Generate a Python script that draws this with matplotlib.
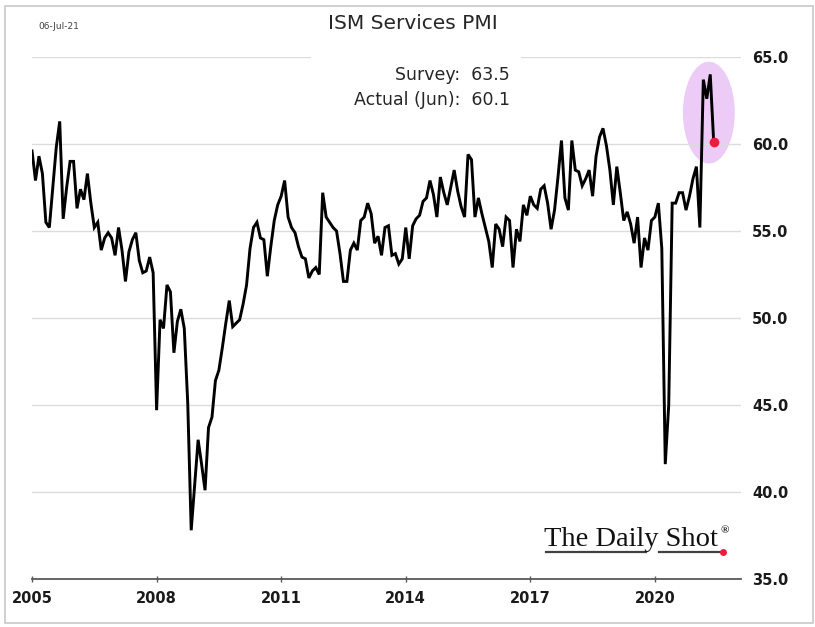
import matplotlib
matplotlib.use('Agg')
import matplotlib.pyplot as plt
from matplotlib.patches import Ellipse, Rectangle
from matplotlib.lines import Line2D
import numpy as np

## ISM services PMI, monthly Jan-2005 .. Jun-2021
pmi_2005 = [59.6, 57.9, 59.3, 58.3, 55.5, 55.2, 57.5, 59.8, 61.3, 55.7, 57.5, 59.0]
pmi_2006 = [59.0, 56.3, 57.4, 56.8, 58.3, 56.6, 55.2, 55.5, 53.9, 54.6, 54.9, 54.6]
pmi_2007 = [53.6, 55.2, 53.9, 52.1, 53.8, 54.5, 54.9, 53.3, 52.6, 52.7, 53.5, 52.6]
pmi_2008 = [44.7, 49.9, 49.4, 51.9, 51.5, 48.0, 49.8, 50.5, 49.4, 45.1, 37.8, 40.4]
pmi_2009 = [43.0, 41.6, 40.1, 43.7, 44.3, 46.4, 47.0, 48.3, 49.7, 51.0, 49.5, 49.7]
pmi_2010 = [49.9, 50.8, 51.9, 54.0, 55.2, 55.5, 54.6, 54.5, 52.4, 54.1, 55.6, 56.5]
pmi_2011 = [57.0, 57.9, 55.8, 55.2, 54.9, 54.1, 53.5, 53.4, 52.3, 52.7, 52.9, 52.5]
pmi_2012 = [57.2, 55.8, 55.5, 55.2, 55.0, 53.7, 52.1, 52.1, 53.9, 54.3, 53.9, 55.6]
pmi_2013 = [55.8, 56.6, 56.0, 54.3, 54.7, 53.6, 55.2, 55.3, 53.6, 53.7, 53.1, 53.4]
pmi_2014 = [55.2, 53.4, 55.3, 55.7, 55.9, 56.7, 56.9, 57.9, 57.1, 55.8, 58.1, 57.2]
pmi_2015 = [56.5, 57.5, 58.5, 57.3, 56.4, 55.8, 59.4, 59.1, 55.8, 56.9, 56.0, 55.2]
pmi_2016 = [54.4, 52.9, 55.4, 55.1, 54.1, 55.8, 55.6, 52.9, 55.1, 54.4, 56.5, 55.9]
pmi_2017 = [57.0, 56.5, 56.3, 57.4, 57.6, 56.6, 55.1, 56.2, 58.1, 60.2, 56.9, 56.2]
pmi_2018 = [60.2, 58.5, 58.4, 57.6, 58.0, 58.5, 57.0, 59.3, 60.4, 60.9, 59.9, 58.5]
pmi_2019 = [56.5, 58.7, 57.2, 55.6, 56.1, 55.4, 54.3, 55.8, 52.9, 54.6, 53.9, 55.6]
pmi_2020 = [55.8, 56.6, 54.0, 41.6, 45.0, 56.6, 56.6, 57.2, 57.2, 56.2, 57.0, 58.0]
pmi_2021 = [58.7, 55.2, 63.7, 62.6, 64.0, 60.1]

START_YEAR = 2005
YTICKS = [35.0, 40.0, 45.0, 50.0, 55.0, 60.0, 65.0]
XTICKS = [2005, 2008, 2011, 2014, 2017, 2020]
SURVEY = 63.5
ACTUAL = 60.1

pmi = (pmi_2005 + pmi_2006 + pmi_2007 + pmi_2008 + pmi_2009 + pmi_2010 +
       pmi_2011 + pmi_2012 + pmi_2013 + pmi_2014 + pmi_2015 + pmi_2016 +
       pmi_2017 + pmi_2018 + pmi_2019 + pmi_2020 + pmi_2021)
t = START_YEAR + np.arange(len(pmi)) / 12.0

fig = plt.figure(figsize=(8.15, 6.27), dpi=100)
ax = fig.add_axes([0.0393, 0.0766, 0.8697, 0.8325])

## highlight around the latest readings
ax.add_patch(Ellipse((2021.3, 61.8), 1.25, 5.85, facecolor='#ecccf6', edgecolor='none', zorder=1))

ax.plot(t, pmi, color='black', lw=2.1, zorder=3, solid_joinstyle='miter')
ax.plot(t[-1], pmi[-1], 'o', color='#ee1c3c', ms=7, mec='none', zorder=4)

ax.set_xlim(2005, 2022.07)
ax.set_ylim(35, 65)
ax.set_yticks(YTICKS)
ax.set_yticklabels(['%.1f' % v for v in YTICKS])
ax.set_xticks(XTICKS)
ax.set_xticklabels([str(x) for x in XTICKS])
ax.yaxis.tick_right()
ax.grid(True, axis='y', color='#dcdcdc', lw=1.0, zorder=0)
for s in ['top', 'left', 'right']:
    ax.spines[s].set_visible(False)
ax.spines['bottom'].set_color('#595959')
ax.spines['bottom'].set_linewidth(1.3)
ax.spines['bottom'].set_zorder(5)
ax.tick_params(axis='y', length=0, pad=8, labelsize=10.5, labelcolor='#1a1a1a')
ax.tick_params(axis='x', direction='inout', length=5, width=1, color='#595959',
               pad=6, labelsize=10.5, labelcolor='#1a1a1a')
for lab in ax.get_xticklabels() + ax.get_yticklabels():
    lab.set_fontweight('bold')

## texts
fig.text(0.506, 0.962, 'ISM Services PMI', ha='center', va='center', fontsize=14.5, color='#262626')
fig.text(0.047, 0.958, '06-Jul-21', ha='left', va='center', fontsize=6.5, color='#404040')
fig.text(0.626, 0.880, 'Survey:  %.1f' % SURVEY, ha='right', va='center', fontsize=12.5,
         color='#262626', bbox=dict(facecolor='white', edgecolor='none', pad=2))
fig.text(0.626, 0.840, 'Actual (Jun):  %.1f' % ACTUAL, ha='right', va='center', fontsize=12.5,
         color='#262626', bbox=dict(facecolor='white', edgecolor='none', pad=2))
## white patch hiding the 65 gridline behind the text box
fig.patches.append(Rectangle((0.381, 0.895), 0.258, 0.02, transform=fig.transFigure,
                             facecolor='white', edgecolor='none', zorder=2))

## logo
fig.text(0.668, 0.129, 'The Daily Shot', ha='left', va='baseline', fontsize=20.5,
         family='Liberation Serif', color='#111111')
fig.text(0.884, 0.150, '\u00ae', ha='left', va='baseline', fontsize=8,
         family='Liberation Serif', weight='bold', color='#1a1a1a')
fig.lines.append(Line2D([0.670, 0.793], [0.120, 0.120], transform=fig.transFigure,
                        color='#404040', lw=1.6))
fig.lines.append(Line2D([0.808, 0.886], [0.120, 0.120], transform=fig.transFigure,
                        color='#404040', lw=1.6))
fig.lines.append(Line2D([0.887], [0.120], transform=fig.transFigure, marker='o',
                        color='#ee1c3c', ms=5, mec='none'))

## outer frame
fig.patches.append(Rectangle((0.006, 0.006), 0.991, 0.985, transform=fig.transFigure,
                             facecolor='none', edgecolor='#c8c8c8', lw=1.2))

fig.savefig('out.png', dpi=100)
